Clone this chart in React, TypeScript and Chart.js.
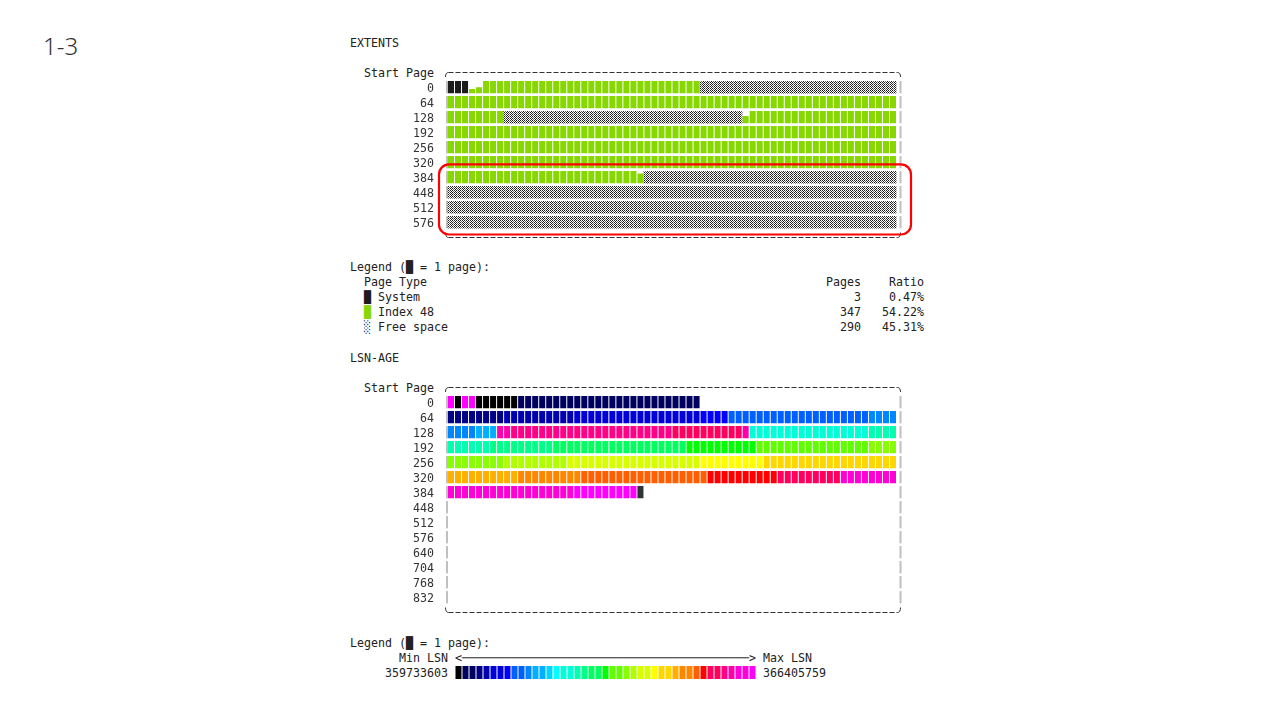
import React, { useEffect, useRef } from 'react';
import { Chart, registerables } from 'chart.js';

Chart.register(...registerables);

const MONO = "'DejaVu Sans Mono', monospace";
const FS = 11.63;
const INK = '#222222';

// ---------- text ----------
const pageTitle = '1-3';
const extentsTitle = 'EXTENTS';
const lsnTitle = 'LSN-AGE';
const startPageLabel = 'Start Page';
const legendHeader = 'Legend (█ = 1 page):';

// ---------- EXTENTS data ----------
const extentStartPages = ['0', '64', '128', '192', '256', '320', '384', '448', '512', '576'];
// runs of page types per 64-page row: S = system, I = index, F = free space
const extentRows: [string, number][][] = [
  [['S', 3], ['I', 33], ['F', 28]],
  [['I', 64]],
  [['I', 8], ['F', 34], ['I', 22]],
  [['I', 64]],
  [['I', 64]],
  [['I', 64]],
  [['I', 28], ['F', 36]],
  [['F', 64]],
  [['F', 64]],
  [['F', 64]],
];
// partially filled pages (fill fraction)
const partialRows = [0, 0, 2, 6];
const partialCols = [3, 4, 42, 27];
const partialFills = [0.35, 0.5, 0.6, 0.8];

const pageTypeKeys = ['S', 'I', 'F'];
const pageTypeNames = ['System', 'Index 48', 'Free space'];
const pageTypeGlyphs = ['█', '█', '░'];
const pageTypeColors = ['#1c1c1c', '#87d700', '#000000'];
const pageTypePages = [3, 347, 290];
const pageTypeRatios = ['0.47%', '54.22%', '45.31%'];

// ---------- LSN-AGE data ----------
const lsnStartPages = ['0', '64', '128', '192', '256', '320', '384', '448', '512', '576', '640', '704', '768', '832'];
const lsnPalette = [
  '#000000', '#00005f', '#00005f', '#000087', '#0000af', '#0000d7', '#0000d7', '#0000ff',
  '#005fff', '#005fff', '#0087ff', '#00afff', '#00afff', '#00d7ff', '#00ffff', '#00ffd7',
  '#00ffd7', '#00ffaf', '#00ff87', '#00ff5f', '#00ff5f', '#00ff00', '#5fff00', '#5fff00',
  '#87ff00', '#afff00', '#d7ff00', '#d7ff00', '#ffff00', '#ffd700', '#ffd700', '#ffaf00',
  '#ff8700', '#ff8700', '#ff5f00', '#ff0000', '#ff005f', '#ff005f', '#ff0087', '#ff00af',
  '#ff00d7', '#ff00d7', '#ff00ff',
];
const lsnUnknownColor = '#2e3436';
// runs of [palette index, count] per row; -1 = unknown LSN
const lsnRows: [number, number][][] = [
  [[42, 1], [0, 1], [42, 2], [0, 6], [2, 26]],
  [[3, 8], [4, 10], [5, 18], [7, 4], [8, 20], [10, 4]],
  [[10, 4], [11, 3], [39, 2], [38, 23], [36, 10], [39, 1], [15, 17], [17, 4]],
  [[17, 6], [18, 9], [19, 19], [21, 10], [22, 16], [24, 4]],
  [[24, 8], [25, 9], [26, 19], [28, 9], [29, 19]],
  [[31, 10], [32, 9], [34, 18], [35, 10], [36, 9], [40, 8]],
  [[41, 18], [42, 9], [-1, 1]],
];
const lsnMinLabel = '359733603';
const lsnMaxLabel = '366405759';

const columnLabels = Array.from({ length: 64 }, (_, i) => String(i));

function expandRuns<T>(runs: [T, number][]): T[] {
  const out: T[] = [];
  runs.forEach(([v, n]) => {
    for (let i = 0; i < n; i++) out.push(v);
  });
  return out;
}

function makeHatch(): any {
  const c = document.createElement('canvas');
  c.width = 4;
  c.height = 2;
  const g = c.getContext('2d');
  if (!g) return '#999999';
  g.fillStyle = '#ffffff';
  g.fillRect(0, 0, 4, 2);
  g.fillStyle = '#1e1e1e';
  g.fillRect(0, 0, 1, 1);
  g.fillRect(2, 0, 1, 1);
  g.fillRect(1, 1, 1, 1);
  g.fillStyle = '#666666';
  g.fillRect(3, 1, 1, 1);
  return g.createPattern(c, 'repeat') || '#999999';
}

function buildExtentDatasets() {
  const hatch = makeHatch();
  const ds: any[] = [];
  extentRows.forEach((runs, r) => {
    const cells = expandRuns(runs);
    const fillOf = (c: number) => {
      for (let k = 0; k < partialRows.length; k++) {
        if (partialRows[k] === r && partialCols[k] === c) return partialFills[k];
      }
      return 1;
    };
    ds.push({
      label: 'pages ' + extentStartPages[r],
      data: cells.map((t, c) => (t === 'F' ? null : [r + 0.41 - 0.82 * fillOf(c), r + 0.41])),
      backgroundColor: cells.map((t) => pageTypeColors[pageTypeKeys.indexOf(t)]),
      barPercentage: 0.86,
      categoryPercentage: 1,
      grouped: false,
      borderWidth: 0,
    });
    ds.push({
      label: 'free ' + extentStartPages[r],
      data: cells.map((t) => (t === 'F' ? [r - 0.39, r + 0.39] : null)),
      backgroundColor: hatch,
      barPercentage: 1,
      categoryPercentage: 1,
      grouped: false,
      borderWidth: 0,
    });
  });
  return ds;
}

function buildLsnDatasets() {
  return lsnRows.map((runs, r) => {
    const cells = expandRuns(runs);
    return {
      label: 'lsn ' + lsnStartPages[r],
      data: cells.map(() => [r - 0.41, r + 0.41]),
      backgroundColor: cells.map((i) => (i < 0 ? lsnUnknownColor : lsnPalette[i])),
      barPercentage: 0.86,
      categoryPercentage: 1,
      grouped: false,
      borderWidth: 0,
    };
  });
}

function framePlugin(rowCount: number, highlight: { from: number; to: number } | null) {
  return {
    id: 'asciiFrame',
    beforeDatasetsDraw(chart: any) {
      const { ctx, chartArea: a, scales } = chart;
      const y = scales.y;
      ctx.save();
      ctx.fillStyle = '#c0c0c0';
      for (let r = 0; r < rowCount; r++) {
        const t = y.getPixelForValue(r - 0.41);
        const b = y.getPixelForValue(r + 0.41);
        ctx.fillRect(a.left - 1.5, Math.min(t, b), 2, Math.abs(b - t));
        ctx.fillRect(a.right + 3, Math.min(t, b), 2, Math.abs(b - t));
      }
      const L = Math.round(a.left - 3) + 0.5;
      const R = Math.round(a.right + 3) + 0.5;
      const top = Math.round(a.top - 7.6) + 0.5;
      const bot = Math.round(a.bottom + 7.6) + 0.5;
      ctx.strokeStyle = '#333333';
      ctx.lineWidth = 1;
      ctx.setLineDash([5, 2]);
      ctx.beginPath();
      ctx.moveTo(L + 3, top);
      ctx.lineTo(R - 3, top);
      ctx.moveTo(L + 3, bot);
      ctx.lineTo(R - 3, bot);
      ctx.stroke();
      ctx.setLineDash([]);
      ctx.beginPath();
      ctx.moveTo(L, top + 4.5);
      ctx.quadraticCurveTo(L, top, L + 3, top);
      ctx.moveTo(R - 3, top);
      ctx.quadraticCurveTo(R, top, R, top + 4.5);
      ctx.moveTo(L, bot - 5);
      ctx.quadraticCurveTo(L, bot, L + 3, bot);
      ctx.moveTo(R - 3, bot);
      ctx.quadraticCurveTo(R, bot, R, bot - 5);
      ctx.stroke();
      ctx.restore();
    },
    afterDatasetsDraw(chart: any) {
      if (!highlight) return;
      const { ctx, chartArea: a, scales } = chart;
      const y = scales.y;
      const x0 = a.left - 8.5;
      const x1 = a.right + 14.5;
      const y0 = y.getPixelForValue(highlight.from - 0.85);
      const y1 = y.getPixelForValue(highlight.to + 0.82);
      const rad = 10;
      ctx.save();
      ctx.strokeStyle = '#ff0000';
      ctx.lineWidth = 2.2;
      ctx.beginPath();
      ctx.moveTo(x0 + rad, y0);
      ctx.arcTo(x1, y0, x1, y1, rad);
      ctx.arcTo(x1, y1, x0, y1, rad);
      ctx.arcTo(x0, y1, x0, y0, rad);
      ctx.arcTo(x0, y0, x1, y0, rad);
      ctx.closePath();
      ctx.stroke();
      ctx.restore();
    },
  };
}

type GridProps = {
  left: number;
  top: number;
  width: number;
  height: number;
  rowLabels: string[];
  build: () => any[];
  highlight: { from: number; to: number } | null;
  padBottom: number;
};

function GridChart({ left, top, width, height, rowLabels, build, highlight, padBottom }: GridProps) {
  const ref = useRef<HTMLCanvasElement>(null);
  useEffect(() => {
    const canvas = ref.current;
    if (!canvas) return;
    const n = rowLabels.length;
    const chart = new Chart(canvas, {
      type: 'bar',
      data: { labels: columnLabels, datasets: build() },
      options: {
        responsive: false,
        animation: false,
        events: [],
        layout: { padding: { left: 0, right: width - 97.5 - 449, top: 19.7, bottom: padBottom } },
        plugins: { legend: { display: false }, tooltip: { enabled: false } },
        scales: {
          x: { type: 'category', display: false, offset: true },
          y: {
            type: 'linear',
            min: -0.5,
            max: n - 0.5,
            reverse: true,
            grid: { display: false, drawTicks: false },
            border: { display: false },
            afterBuildTicks: (s: any) => {
              s.ticks = rowLabels.map((_, i) => ({ value: i }));
            },
            afterFit: (s: any) => {
              s.width = 97.5;
              s.paddingTop = 0;
              s.paddingBottom = 0;
            },
            ticks: {
              autoSkip: false,
              padding: 13.5,
              labelOffset: 1.3,
              color: '#333333',
              font: { family: MONO, size: FS },
              callback: (v: any) => rowLabels[Math.round(Number(v))] ?? '',
            },
          },
        },
      } as any,
      plugins: [framePlugin(n, highlight)],
    });
    return () => chart.destroy();
  }, []);
  return (
    <canvas
      ref={ref}
      width={width}
      height={height}
      style={{ position: 'absolute', left, top, width, height }}
    />
  );
}

function StripChart() {
  const ref = useRef<HTMLCanvasElement>(null);
  useEffect(() => {
    const canvas = ref.current;
    if (!canvas) return;
    const chart = new Chart(canvas, {
      type: 'bar',
      data: {
        labels: lsnPalette.map((_, i) => String(i)),
        datasets: [
          {
            data: lsnPalette.map(() => 1),
            backgroundColor: lsnPalette,
            barPercentage: 0.86,
            categoryPercentage: 1,
            borderWidth: 0,
          },
        ],
      },
      options: {
        responsive: false,
        animation: false,
        events: [],
        layout: { padding: 0 },
        plugins: { legend: { display: false }, tooltip: { enabled: false } },
        scales: {
          x: { display: false },
          y: { display: false, min: 0, max: 1 },
        },
      } as any,
    });
    return () => chart.destroy();
  }, []);
  return (
    <canvas
      ref={ref}
      width={301}
      height={13}
      style={{ position: 'absolute', left: 455, top: 666, width: 301, height: 13 }}
    />
  );
}

function TextLine({ x, cy, children }: { x: number; cy: number; children: React.ReactNode }) {
  return (
    <div
      style={{
        position: 'absolute',
        left: x,
        top: cy - 7.3,
        fontFamily: MONO,
        fontSize: FS,
        lineHeight: '15px',
        whiteSpace: 'pre',
        color: INK,
      }}
    >
      {children}
    </div>
  );
}

function pageTypeLine(i: number) {
  const leftPart = '  ' + pageTypeGlyphs[i] + ' ' + pageTypeNames[i];
  const pages = String(pageTypePages[i]);
  const ratio = pageTypeRatios[i];
  const gap1 = ' '.repeat(73 - pages.length - leftPart.length);
  const gap2 = ' '.repeat(82 - ratio.length - 73);
  return (
    <>
      {'  '}
      <span style={{ color: pageTypeColors[i] }}>{pageTypeGlyphs[i]}</span>
      {' ' + pageTypeNames[i] + gap1 + pages + gap2 + ratio}
    </>
  );
}

export default function App() {
  const headerLine = '  Page Type' + ' '.repeat(68 - 11) + 'Pages' + '    ' + 'Ratio';
  const arrowLine = '       Min LSN <' + '─'.repeat(41) + '> Max LSN';
  const numberLine = '     ' + lsnMinLabel + ' ' + ' '.repeat(lsnPalette.length) + ' ' + lsnMaxLabel;
  return (
    <div
      style={{
        position: 'absolute',
        left: 0,
        top: 0,
        width: 1280,
        height: 720,
        background: '#ffffff',
        overflow: 'hidden',
      }}
    >
      <div
        style={{
          position: 'absolute',
          left: 43,
          top: 31,
          fontFamily: "'Noto Sans', sans-serif",
          fontSize: 24,
          lineHeight: '30px',
          color: '#333333',
          fontWeight: 300,
        }}
      >
        {pageTitle}
      </div>

      <TextLine x={350} cy={43}>{extentsTitle}</TextLine>
      <TextLine x={364} cy={73}>{startPageLabel}</TextLine>
      <GridChart
        left={350}
        top={60}
        width={580}
        height={185}
        rowLabels={extentStartPages}
        build={buildExtentDatasets}
        highlight={{ from: 6, to: 9 }}
        padBottom={15.3}
      />

      <TextLine x={350} cy={267}>{legendHeader}</TextLine>
      <TextLine x={350} cy={282}>{headerLine}</TextLine>
      {pageTypeNames.map((_, i) => (
        <TextLine key={i} x={350} cy={297 + 15 * i}>
          {pageTypeLine(i)}
        </TextLine>
      ))}

      <TextLine x={350} cy={358}>{lsnTitle}</TextLine>
      <TextLine x={364} cy={388}>{startPageLabel}</TextLine>
      <GridChart
        left={350}
        top={375}
        width={580}
        height={250}
        rowLabels={lsnStartPages}
        build={buildLsnDatasets}
        highlight={null}
        padBottom={20.3}
      />

      <TextLine x={350} cy={643}>{legendHeader}</TextLine>
      <TextLine x={350} cy={658}>{arrowLine}</TextLine>
      <TextLine x={350} cy={673}>{numberLine}</TextLine>
      <StripChart />
    </div>
  );
}
